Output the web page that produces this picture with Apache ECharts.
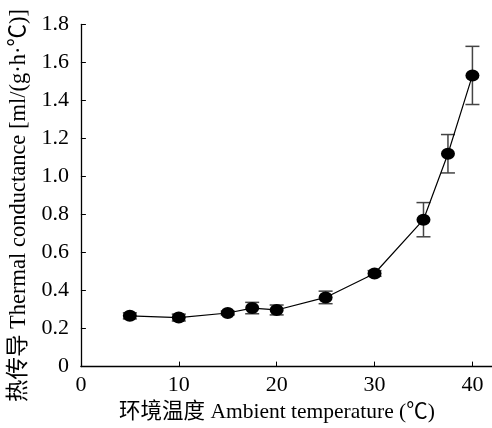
<!DOCTYPE html>
<html>
<head>
<meta charset="utf-8">
<script src="https://cdn.jsdelivr.net/npm/echarts@6/dist/echarts.min.js"></script>
<style>
  html, body { margin: 0; padding: 0; background: #fff; }
  #main { width: 492px; height: 428px; }
</style>
</head>
<body>
<div id="main"></div>
<script>
const chartDom = document.getElementById('main');
const myChart = echarts.init(chartDom);

// Ambient temperature (°C) and thermal conductance readings
const temps = [5, 10, 15, 17.5, 20, 25, 30, 35, 37.5, 40];
const conductance = [0.267, 0.258, 0.282, 0.308, 0.298, 0.364, 0.490, 0.773, 1.120, 1.532];
const errors = [0.016, 0.018, 0.010, 0.030, 0.026, 0.033, 0.015, 0.090, 0.101, 0.153];
const xTicks = [0, 10, 20, 30, 40];

const font = '"Liberation Serif", "Noto Sans CJK SC", serif';

const points = temps.map((t, i) => [t, conductance[i]]);
const bars = temps.map((t, i) => [t, conductance[i] - errors[i], conductance[i] + errors[i]]);

const option = {
    animation: false,
    backgroundColor: '#fff',
    grid: { left: 80, right: 0, top: 24.5, bottom: 61 },
    xAxis: {
        type: 'value',
        min: 0,
        max: 42,
        interval: 10,
        name: '环境温度 Ambient temperature (℃)',
        nameLocation: 'middle',
        nameGap: 32,
        nameTextStyle: { fontFamily: font, fontSize: 21.5, color: '#000', padding: [0, 19, 0, 0] },
        axisLine: { lineStyle: { color: '#000', width: 1.3 } },
        axisTick: { inside: true, length: 5, customValues: xTicks, lineStyle: { color: '#000' } },
        axisLabel: { customValues: xTicks, margin: 8, fontFamily: font, fontSize: 22, color: '#000' },
        splitLine: { show: false }
    },
    yAxis: {
        type: 'value',
        min: 0,
        max: 1.8,
        interval: 0.2,
        name: '热传导 Thermal conductance [ml/(g·h·℃)]',
        nameLocation: 'middle',
        nameGap: 47,
        nameTextStyle: { fontFamily: font, fontSize: 22.5, color: '#000', padding: [0, 20, 0, 0] },
        axisLine: { show: true, lineStyle: { color: '#000', width: 1.3 } },
        axisTick: { show: true, inside: true, length: 5, lineStyle: { color: '#000' } },
        axisLabel: {
            margin: 12, fontFamily: font, fontSize: 22, color: '#000',
            formatter: v => v === 0 ? '0' : v.toFixed(1)
        },
        splitLine: { show: false }
    },
    series: [
        {
            type: 'custom',
            data: bars,
            z: 1,
            renderItem: (params, api) => {
                const x = api.value(0);
                const lo = api.coord([x, api.value(1)]);
                const hi = api.coord([x, api.value(2)]);
                const half = 7;
                const style = { stroke: '#444', lineWidth: 1.5 };
                return {
                    type: 'group',
                    children: [
                        { type: 'line', shape: { x1: lo[0], y1: lo[1], x2: hi[0], y2: hi[1] }, style },
                        { type: 'line', shape: { x1: lo[0] - half, y1: lo[1], x2: lo[0] + half, y2: lo[1] }, style },
                        { type: 'line', shape: { x1: hi[0] - half, y1: hi[1], x2: hi[0] + half, y2: hi[1] }, style }
                    ]
                };
            }
        },
        {
            type: 'line',
            data: points,
            z: 2,
            symbol: 'circle',
            symbolSize: [14, 12],
            itemStyle: { color: '#000' },
            lineStyle: { color: '#000', width: 1.2 }
        }
    ]
};

myChart.setOption(option);
window.onresize = () => myChart.resize();
</script>
</body>
</html>
